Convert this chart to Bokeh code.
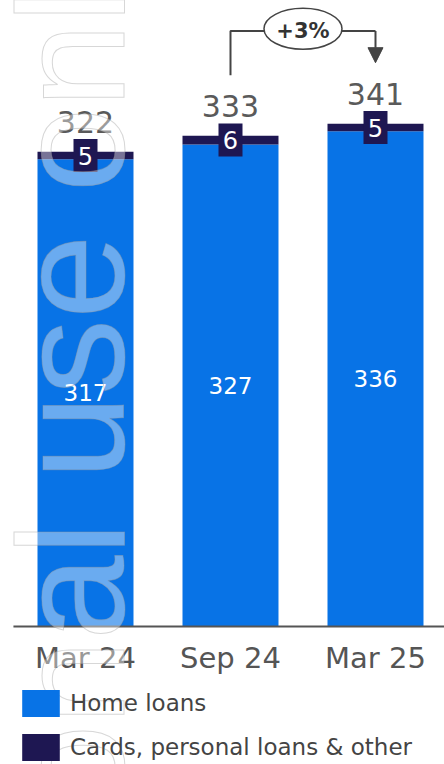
import numpy as np
from bokeh.plotting import figure
from bokeh.models import ColumnDataSource, Range1d, Legend, LegendItem, Arrow, NormalHead
from bokeh.core.properties import value
from bokeh.embed import file_html
from bokeh.resources import INLINE

# ---- data ----
periods = ["Mar 24", "Sep 24", "Mar 25"]
home_loans = [317, 327, 336]
cards_other = [5, 6, 5]
totals = [322, 333, 341]
series_names = ["Home loans", "Cards, personal loans & other"]
change_label = "+3%"
watermark = "Personal use only"

# ---- style ----
BLUE = "#0873E6"
NAVY = "#1E1752"
FONT_NAME = "DejaVu Sans"
FONT = value(FONT_NAME)

xs = list(range(len(periods)))
src = ColumnDataSource(dict(
    x=xs,
    period=periods,
    home=home_loans,
    other=cards_other,
    total=totals,
    zero=[0] * len(periods),
    home_mid=[h / 2 for h in home_loans],
    other_mid=[h + o / 2 for h, o in zip(home_loans, cards_other)],
    home_lbl=[str(v) for v in home_loans],
    other_lbl=[str(v) for v in cards_other],
    total_lbl=[str(v) for v in totals],
))

p = figure(width=444, height=764, output_backend="svg", toolbar_location=None,
           x_range=Range1d(-0.5862, 2.4759), y_range=Range1d(-93.62, 424.69),
           x_axis_type=None, y_axis_type=None, min_border=0)
p.outline_line_color = None
p.grid.visible = False
p.background_fill_color = "white"
p.border_fill_color = "white"

rs = p.vbar_stack(["home", "other"], x="x", width=0.662, source=src,
                  fill_color=[BLUE, NAVY], line_color=None)

# baseline
p.segment(x0=[-0.497], y0=[0], x1=[2.48], y1=[0], line_color="#555555", line_width=2)

# home loan labels
p.text(x="x", y="home_mid", text="home_lbl", source=src, text_color="white",
       text_font=FONT, text_font_size="23px", text_align="center", text_baseline="middle")

# other boxes + labels
p.rect(x="x", y="other_mid", width=24, height=33, width_units="screen", height_units="screen",
       fill_color=NAVY, line_color=None, source=src)
p.text(x="x", y="other_mid", text="other_lbl", source=src, text_color="white",
       text_font=FONT, text_font_size="24px", text_align="center", text_baseline="middle")

# totals
p.text(x="x", y="total", text="total_lbl", source=src, y_offset=-30, text_color="#5a5a5a",
       text_font=FONT, text_font_size="30px", text_align="center", text_baseline="middle")

# category labels
p.text(x="x", y="zero", text="period", source=src, y_offset=31, text_color="#555555",
       text_font=FONT, text_font_size="29px", text_align="center", text_baseline="middle")

# growth bracket
y_start_ann = totals[1] + 41
y_br = max(totals) + 63
y_tip = totals[2] + 41.5
p.line(x=[1, 1, 2], y=[y_start_ann, y_br, y_br], line_color="#444444", line_width=2)
p.add_layout(Arrow(end=NormalHead(size=15, fill_color="#444444", line_color="#444444"),
                   x_start=2, y_start=y_br, x_end=2, y_end=y_tip,
                   line_color="#444444", line_width=2))
p.ellipse(x=[1.5], y=[y_br + 1.5], width=78, height=41, width_units="screen", height_units="screen",
          fill_color="white", line_color="#444444", line_width=1.5)
p.text(x=[1.5], y=[y_br], text=[change_label], text_color="#333333", text_font=FONT,
       text_font_style="bold", text_font_size="21px", text_align="center", text_baseline="middle")

# legend
legend = Legend(items=[LegendItem(label=series_names[0], renderers=[rs[0]]),
                       LegendItem(label=series_names[1], renderers=[rs[1]])],
                location=(17, 0), orientation="vertical",
                glyph_width=47, glyph_height=34, label_standoff=6, spacing=10,
                padding=0, margin=0, border_line_color=None, background_fill_alpha=0,
                label_text_font=FONT_NAME, label_text_font_size="23px", label_text_color="#444444",
                label_height=34)
p.add_layout(legend)

# watermark
p.text(x=[-0.0966], y=[73.9], text=[watermark], angle=np.pi / 2,
       text_font=value("Liberation Sans"), text_font_size="152px",
       text_align="center", text_baseline="alphabetic",
       text_color="white", text_alpha=0.4, text_outline_color="#9a9a9a", level="overlay")

open("out.html", "w").write(file_html(p, INLINE))
